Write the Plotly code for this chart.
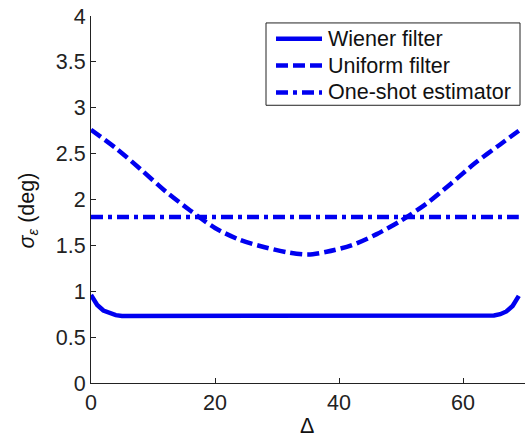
import plotly.graph_objects as go

# Tracking error versus offset Δ for three estimators
delta_wiener = [0, 1, 2, 3, 4, 5, 64, 65, 66, 67, 68, 69]
sigma_wiener = [0.96, 0.85, 0.79, 0.76, 0.74, 0.73, 0.73, 0.735, 0.75, 0.78, 0.84, 0.95]

delta_uniform = [0, 4, 8, 12, 16, 20, 24, 28, 32, 35, 38, 42, 46, 50, 54, 58, 62, 66, 69]
sigma_uniform = [2.76, 2.56, 2.33, 2.09, 1.88, 1.69, 1.56, 1.48, 1.42, 1.40, 1.43, 1.50,
                 1.62, 1.77, 1.95, 2.17, 2.40, 2.60, 2.75]

delta_oneshot = [0, 69]
sigma_oneshot = [1.81, 1.81]

series_names = ["Wiener filter", "Uniform filter", "One-shot estimator"]
x_ticks = [0, 20, 40, 60]
y_ticks = [0, 0.5, 1, 1.5, 2, 2.5, 3, 3.5, 4]

BLUE = "#0000f0"
INK = "#222222"
FONT = "Liberation Sans, Arial, sans-serif"
FS = 21.5

W, H = 530, 440
ML, MR, MT, MB = 91, 5, 13, 57
PW, PH = W - ML - MR, H - MT - MB


def px_x(p):
    return (p - ML) / PW


def px_y(p):
    return (H - MB - p) / PH


styles = [
    dict(dash="solid"),
    dict(dash="12px,5px"),
    dict(dash="12px,5px,4px,5px"),
]

fig = go.Figure()
fig.add_trace(go.Scatter(x=delta_wiener, y=sigma_wiener, mode="lines",
                         line=dict(color=BLUE, width=4.5, **styles[0]),
                         name=series_names[0], showlegend=False))
fig.add_trace(go.Scatter(x=delta_uniform, y=sigma_uniform, mode="lines",
                         line=dict(color=BLUE, width=4.5, shape="spline", smoothing=0.8, **styles[1]),
                         name=series_names[1], showlegend=False))
fig.add_trace(go.Scatter(x=delta_oneshot, y=sigma_oneshot, mode="lines",
                         line=dict(color=BLUE, width=4.5, **styles[2]),
                         name=series_names[2], showlegend=False))

shapes = []
annotations = []

# Legend box with line samples
shapes.append(dict(type="rect", xref="paper", yref="paper",
                   x0=px_x(266), x1=px_x(520), y0=px_y(103), y1=px_y(20),
                   line=dict(color=INK, width=1), fillcolor="white", layer="above"))
row_y = [36, 63, 90]
for name, st, ry in zip(series_names, styles, row_y):
    shapes.append(dict(type="line", xref="paper", yref="paper",
                       x0=px_x(276), x1=px_x(322), y0=px_y(ry), y1=px_y(ry),
                       line=dict(color=BLUE, width=4.5, dash=st["dash"]), layer="above"))
    annotations.append(dict(text=name, xref="paper", yref="paper",
                            x=px_x(326), y=px_y(ry), xanchor="left", yanchor="middle",
                            showarrow=False, font=dict(family=FONT, size=FS, color="#111")))

# Axis titles
annotations.append(dict(text="<i>σ</i><sub><i>ε</i></sub> (deg)", xref="paper", yref="paper",
                        x=px_x(28), y=px_y(209), xanchor="center", yanchor="middle",
                        textangle=-90, showarrow=False,
                        font=dict(family=FONT, size=FS, color="#111")))
annotations.append(dict(text="Δ", xref="paper", yref="paper",
                        x=px_x(307), y=px_y(440), xanchor="center", yanchor="bottom",
                        showarrow=False, font=dict(family=FONT, size=FS, color="#111")))

axis_common = dict(showgrid=False, zeroline=False, showline=True, linecolor=INK, linewidth=1,
                   ticks="inside", ticklen=5, tickcolor=INK, tickwidth=1,
                   tickfont=dict(family=FONT, size=FS, color=INK), mirror=False)

fig.update_layout(
    width=W, height=H,
    margin=dict(l=ML, r=MR, t=MT, b=MB, pad=0),
    paper_bgcolor="white", plot_bgcolor="white",
    xaxis=dict(range=[0, 70], tickvals=x_ticks, **axis_common),
    yaxis=dict(range=[0, 4], tickvals=y_ticks, **axis_common),
    shapes=shapes, annotations=annotations, showlegend=False,
)

fig.write_html("out.html")
